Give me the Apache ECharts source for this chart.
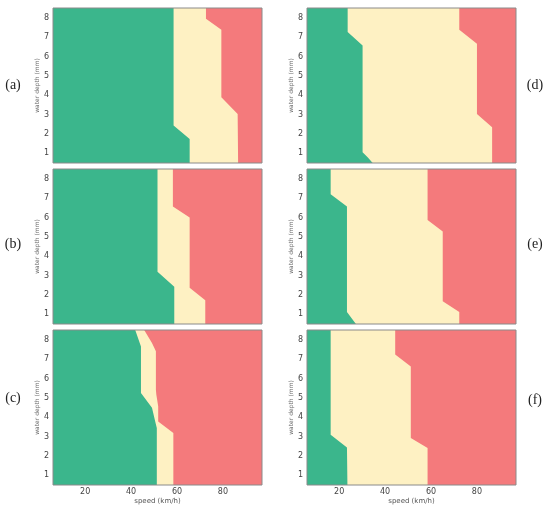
<!DOCTYPE html>
<html>
<head>
<meta charset="utf-8">
<script src="https://cdn.jsdelivr.net/npm/echarts@6/dist/echarts.min.js"></script>
<style>
  html, body { margin: 0; padding: 0; background: #fff; }
  #main { width: 550px; height: 509px; }
</style>
</head>
<body>
<div id="main"></div>
<script>
// speed (km/h) and water depth (mm) ranges shown on every panel
var speedRange = [6, 97];
var depthRange = [0.5, 8.5];
var speedTicks = [20, 40, 60, 80];
var depthTicks = [1, 2, 3, 4, 5, 6, 7, 8];
var panelNames = ['(a)', '(b)', '(c)', '(d)', '(e)', '(f)'];

// boundaries as [speed, depth], from top to bottom
// low = green / yellow edge, high = yellow / red edge
var aLow  = [[58.5, 8.5], [58.5, 2.43], [65.5, 1.74], [65.5, 0.5]];
var aHigh = [[72.6, 8.5], [72.6, 7.95], [79.3, 7.38], [79.3, 3.9], [86.4, 3.03], [86.6, 0.5]];

var bLow  = [[51.5, 8.5], [51.5, 3.2], [58.8, 2.42], [58.8, 0.5]];
var bHigh = [[58.2, 8.5], [58.2, 6.57], [65.5, 6.0], [65.5, 2.37], [72.3, 1.73], [72.3, 0.5]];

var cLow  = [[41.8, 8.5], [44.3, 7.65], [44.3, 5.25], [49.1, 4.49], [50.5, 3.78], [51.2, 3.44], [51.2, 0.5]];
var cHigh = [[45.7, 8.5], [49.1, 7.83], [50.8, 7.4], [50.8, 5.42], [51.0, 5.16], [51.8, 4.56], [51.8, 3.78], [58.4, 3.19], [58.4, 0.5]];

var dLow  = [[23.7, 8.5], [23.7, 7.26], [30.2, 6.57], [30.2, 1.05], [32.4, 0.8], [34.6, 0.5]];
var dHigh = [[72.3, 8.5], [72.3, 7.38], [80.0, 6.66], [80.0, 3.03], [86.6, 2.34], [86.6, 0.5]];

var eLow  = [[16.3, 8.5], [16.3, 7.2], [23.4, 6.57], [23.4, 1.12], [27.3, 0.5]];
var eHigh = [[58.5, 8.5], [58.5, 5.87], [65.1, 5.27], [65.1, 1.67], [72.3, 1.12], [72.3, 0.5]];

var fLow  = [[16.3, 8.5], [16.3, 3.1], [23.4, 2.44], [23.6, 0.5]];
var fHigh = [[44.4, 8.5], [44.4, 7.23], [51.2, 6.62], [51.2, 2.93], [58.5, 2.41], [58.5, 0.5]];

var lows  = [aLow, bLow, cLow, dLow, eLow, fLow];
var highs = [aHigh, bHigh, cHigh, dHigh, eHigh, fHigh];

var colRed = '#f47a7c', colYellow = '#fef1c3', colGreen = '#3bb68c';

var myChart = echarts.init(document.getElementById('main'));

var lefts = [53, 53, 53, 307, 307, 307];
var tops = [8, 169, 330, 8, 169, 330];
var grids = [], xAxes = [], yAxes = [], series = [], labels = [];

for (var i = 0; i < 6; i++) {
  var bottomRow = (i % 3 === 2);
  grids.push({
    left: lefts[i], top: tops[i], width: 209, height: 155,
    show: true, z: 10, backgroundColor: 'transparent',
    borderColor: '#8a8a8a', borderWidth: 1
  });
  xAxes.push({
    type: 'value', gridIndex: i, min: speedRange[0], max: speedRange[1],
    splitLine: { show: false }, axisTick: { show: false },
    axisLine: { show: false },
    name: bottomRow ? 'speed (km/h)' : '',
    nameLocation: 'middle', nameGap: 13,
    nameTextStyle: { fontSize: 7, color: '#555', fontFamily: 'DejaVu Sans' },
    axisLabel: {
      show: bottomRow, customValues: speedTicks, margin: 3,
      fontSize: 8, color: '#444', fontFamily: 'DejaVu Sans'
    }
  });
  yAxes.push({
    type: 'value', gridIndex: i, min: depthRange[0], max: depthRange[1],
    splitLine: { show: false }, axisTick: { show: false },
    axisLine: { show: false },
    name: 'water depth (mm)', nameLocation: 'middle', nameGap: 12,
    nameTextStyle: { fontSize: 6, color: '#666', fontFamily: 'DejaVu Sans' },
    axisLabel: {
      customValues: depthTicks, margin: 4,
      fontSize: 8, color: '#444', fontFamily: 'DejaVu Sans'
    }
  });
  series.push({
    type: 'custom', xAxisIndex: i, yAxisIndex: i,
    silent: true, clip: true,
    data: [[i, 0], [i, 1], [i, 2]],
    renderItem: function (params, api) {
      var p = api.value(0), region = api.value(1);
      var x0 = speedRange[0], x1 = speedRange[1];
      var yTop = depthRange[1], yBot = depthRange[0];
      var pts, fill;
      if (region === 0) {
        pts = [[x0, yTop], [x1, yTop], [x1, yBot], [x0, yBot]];
        fill = colRed;
      } else {
        var edge = region === 1 ? highs[p] : lows[p];
        pts = [[x0, yTop]].concat(edge).concat([[x0, yBot]]);
        fill = region === 1 ? colYellow : colGreen;
      }
      return {
        type: 'polygon',
        shape: { points: pts.map(function (d) { return api.coord(d); }) },
        style: { fill: fill }
      };
    }
  });
}

var labelPos = [[13, 85], [13, 244], [13, 398], [535, 85], [535, 244], [535, 400]];
for (var k = 0; k < 6; k++) {
  labels.push({
    type: 'text', x: labelPos[k][0], y: labelPos[k][1],
    style: {
      text: panelNames[k], fill: '#222', fontSize: 14,
      fontFamily: 'Liberation Serif', align: 'center', verticalAlign: 'middle'
    }
  });
}

var option = {
  animation: false,
  backgroundColor: '#fff',
  grid: grids,
  xAxis: xAxes,
  yAxis: yAxes,
  series: series,
  graphic: labels
};
myChart.setOption(option);
</script>
</body>
</html>
